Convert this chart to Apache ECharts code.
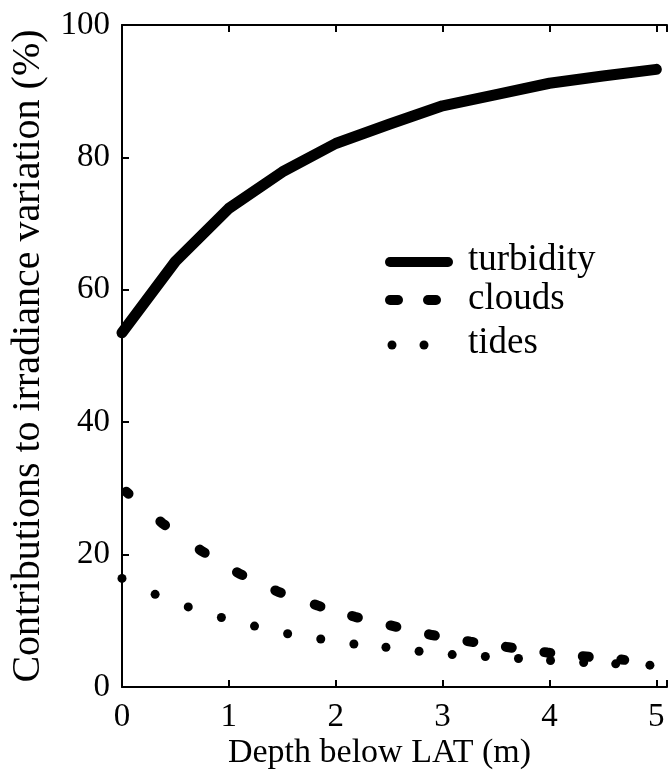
<!DOCTYPE html>
<html>
<head>
<meta charset="utf-8">
<script src="https://cdn.jsdelivr.net/npm/echarts@6/dist/echarts.min.js"></script>
<style>
html,body{margin:0;padding:0;background:#fff;}
#c{width:670px;height:782px;}
</style>
</head>
<body>
<div id="c"></div>
<script>
// ---- data ----
const turbidityX = [0, 0.5, 1, 1.5, 2, 2.5, 3, 3.5, 4, 4.5, 5];
const turbidityY = [53.5, 64.3, 72.3, 77.8, 82.1, 85.0, 87.8, 89.5, 91.2, 92.3, 93.3];

const cloudsX = [0.04, 0.38, 0.75, 1.10, 1.46, 1.83, 2.18, 2.54, 2.90, 3.26, 3.62, 3.98, 4.34, 4.70];
const cloudsY = [29.5, 24.7, 20.5, 17.1, 14.4, 12.3, 10.6, 9.2, 7.85, 6.85, 6.0, 5.2, 4.6, 4.1];

const tidesX = [0, 0.31, 0.62, 0.93, 1.24, 1.55, 1.86, 2.17, 2.47, 2.78, 3.09, 3.40, 3.71, 4.01, 4.32, 4.62, 4.94];
const tidesY = [16.4, 14.0, 12.1, 10.5, 9.2, 8.05, 7.25, 6.5, 6.0, 5.4, 4.9, 4.6, 4.3, 4.0, 3.7, 3.5, 3.3];

const seriesNames = ['turbidity', 'clouds', 'tides'];
const xTitle = 'Depth below LAT (m)';
const yTitle = 'Contributions to irradiance variation (%)';

const FONT = '"Liberation Serif","Times New Roman",serif';
const pair = (xs, ys) => xs.map((x, i) => [x, ys[i]]);

const chart = echarts.init(document.getElementById('c'), null, {renderer: 'canvas'});

const axisLine = {show: true, lineStyle: {color: '#000', width: 2}};
const tick = {show: true, inside: true, length: 7, lineStyle: {color: '#000', width: 2}};
const option = {
  animation: false,
  backgroundColor: '#fff',
  grid: {left: 122, right: 0, top: 25, bottom: 95, containLabel: false},
  xAxis: [{
    type: 'value', min: 0, max: 5.1, interval: 1, position: 'bottom',
    axisLine: axisLine, axisTick: tick,
    axisLabel: {color: '#000', fontFamily: FONT, fontSize: 33, margin: 14,
      formatter: v => (v > 5.01 ? '' : String(v))},
    splitLine: {show: false},
    name: xTitle, nameLocation: 'middle', nameGap: 49, nameMoveOverlap: false,
    nameTextStyle: {color: '#000', fontFamily: FONT, fontSize: 34, padding: [0, 30, 0, 0]}
  }, {
    type: 'value', min: 0, max: 5.1, interval: 1, position: 'top',
    axisLine: axisLine, axisTick: tick,
    axisLabel: {show: false},
    splitLine: {show: false}
  }],
  yAxis: [{
    type: 'value', min: 0, max: 100, interval: 20,
    axisLine: axisLine, axisTick: tick,
    axisLabel: {color: '#000', fontFamily: FONT, fontSize: 33, margin: 12},
    splitLine: {show: false},
    name: yTitle, nameLocation: 'middle', nameGap: 74, nameRotate: 90, nameMoveOverlap: false,
    nameTextStyle: {color: '#000', fontFamily: FONT, fontSize: 40}
  }],
  series: [{
    id: 'turbidity', name: seriesNames[0], type: 'line', data: pair(turbidityX, turbidityY),
    showSymbol: false, smooth: false,
    lineStyle: {color: '#000', width: 11, cap: 'round', join: 'round'}
  }, {
    id: 'clouds', name: seriesNames[1], type: 'line', data: pair(cloudsX, cloudsY),
    showSymbol: false, smooth: false,
    lineStyle: {color: '#000', width: 10, cap: 'round', join: 'round', type: [6, 40]}
  }, {
    id: 'tides', name: seriesNames[2], type: 'scatter', data: pair(tidesX, tidesY),
    symbol: 'circle', symbolSize: 9, itemStyle: {color: '#000', opacity: 1}
  }],
  graphic: [
    {type: 'line', shape: {x1: 390, y1: 262, x2: 448, y2: 262}, style: {stroke: '#000', lineWidth: 10, lineCap: 'round'}},
    {type: 'line', shape: {x1: 390, y1: 300, x2: 398, y2: 300}, style: {stroke: '#000', lineWidth: 10, lineCap: 'round'}},
    {type: 'line', shape: {x1: 428, y1: 300, x2: 436, y2: 300}, style: {stroke: '#000', lineWidth: 10, lineCap: 'round'}},
    {type: 'circle', shape: {cx: 392, cy: 345, r: 4.5}, style: {fill: '#000'}},
    {type: 'circle', shape: {cx: 424, cy: 345, r: 4.5}, style: {fill: '#000'}},
    {type: 'text', style: {x: 468, y: 260, text: seriesNames[0], font: '37px ' + FONT, fill: '#000', verticalAlign: 'middle'}},
    {type: 'text', style: {x: 468, y: 299, text: seriesNames[1], font: '37px ' + FONT, fill: '#000', verticalAlign: 'middle'}},
    {type: 'text', style: {x: 468, y: 343, text: seriesNames[2], font: '37px ' + FONT, fill: '#000', verticalAlign: 'middle'}}
  ]
};
chart.setOption(option);

// dash pattern placed so that each dash sits on one of the read cloud points
const px = pair(cloudsX, cloudsY).map(p => chart.convertToPixel({xAxisIndex: 0, yAxisIndex: 0}, p));
const D = 6;
const dash = [D / 2];
for (let i = 1; i < px.length; i++) {
  const L = Math.hypot(px[i][0] - px[i - 1][0], px[i][1] - px[i - 1][1]);
  dash.push(Math.max(L - D, 1), D);
}
dash[dash.length - 1] = D / 2;
dash.push(2000);
chart.setOption({series: [{id: 'clouds', lineStyle: {type: dash}}]});
</script>
</body>
</html>
